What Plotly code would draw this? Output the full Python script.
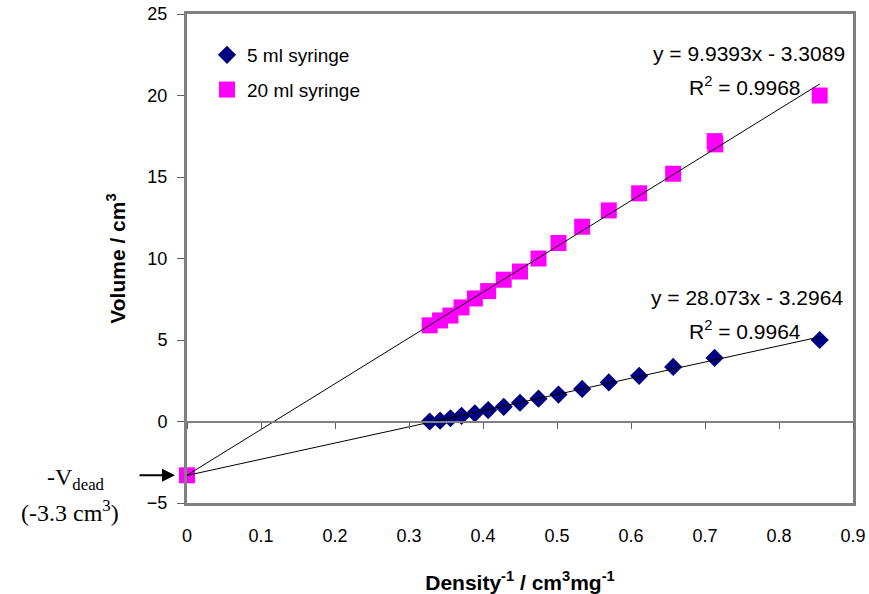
import plotly.graph_objects as go

# ---- data ----
inv_density_5ml = [0.328, 0.342, 0.356, 0.371, 0.389, 0.407, 0.428, 0.450, 0.475,
                   0.502, 0.534, 0.570, 0.611, 0.657, 0.713, 0.855]
volume_5ml = [0.0, 0.05, 0.2, 0.35, 0.5, 0.7, 0.9, 1.15, 1.4,
              1.65, 2.0, 2.4, 2.8, 3.35, 3.9, 5.0]

inv_density_20ml = [0.328, 0.342, 0.356, 0.371, 0.389, 0.407, 0.428, 0.450, 0.475,
                    0.502, 0.534, 0.570, 0.611, 0.657, 0.713, 0.714, 0.855]
volume_20ml = [5.9, 6.2, 6.5, 7.0, 7.55, 8.0, 8.7, 9.2, 10.0,
               10.95, 11.95, 12.95, 14.0, 15.2, 17.2, 17.0, 20.0]

dead_x = [0.0]
dead_volume = [-3.3]

fit_5ml = (9.9393, -3.3089, 0.9968)     # slope, intercept, R^2
fit_20ml = (28.073, -3.2964, 0.9964)

x_ticks = [0, 0.1, 0.2, 0.3, 0.4, 0.5, 0.6, 0.7, 0.8, 0.9]
y_ticks = [-5, 0, 5, 10, 15, 20, 25]

NAVY = "#000080"
MAGENTA = "#FF00FF"
FONT = "Liberation Sans, Arial, sans-serif"
SERIF = "Liberation Serif, Times New Roman, serif"

# body margin is removed via post_script; plot area spans x 187..853, y 14..503
W, H = 869, 594
L, R, T, B = 187, 16, 14, 91
PW = W - L - R
PH = H - T - B

fig = go.Figure()

# trend lines (from the fitted equations)
x_end = max(inv_density_5ml)
for slope, icpt, _ in (fit_20ml, fit_5ml):
    xs = [0.0, x_end]
    fig.add_trace(go.Scatter(x=xs, y=[slope * v + icpt for v in xs], mode="lines",
                             line=dict(color="black", width=1), showlegend=False,
                             hoverinfo="skip", xaxis="x2"))

fig.add_trace(go.Scatter(x=inv_density_5ml, y=volume_5ml, mode="markers",
                         name="5 ml syringe", legendgroup="a",
                         marker=dict(symbol="diamond", size=14, color=NAVY),
                         cliponaxis=False))
fig.add_trace(go.Scatter(x=inv_density_20ml, y=volume_20ml, mode="markers",
                         name="20 ml syringe", legendgroup="b",
                         marker=dict(symbol="square", size=16, color=MAGENTA),
                         cliponaxis=False))
fig.add_trace(go.Scatter(x=dead_x, y=dead_volume, mode="markers", showlegend=False,
                         marker=dict(symbol="square", size=16, color=MAGENTA),
                         cliponaxis=False))

annots = [
    dict(x=0.892, y=22.6, text="y = 9.9393x - 3.3089", xanchor="right"),
    dict(x=0.832, y=20.6, text="R<sup>2</sup> = %.4f" % fit_5ml[2], xanchor="right"),
    dict(x=0.889, y=7.6, text="y = 28.073x - 3.2964", xanchor="right"),
    dict(x=0.832, y=5.6, text="R<sup>2</sup> = %.4f" % fit_20ml[2], xanchor="right"),
]
ann_list = []
for a in annots:
    ann_list.append(dict(xref="x", yref="y", showarrow=False, yanchor="middle",
                         font=dict(family=FONT, size=21, color="black"), **a))


# -V_dead labels (positioned in paper units relative to the plot area)
def px_x(p):
    return (p - 187) / PW


def px_y(p):
    return (503 - p) / PH


ann_list.append(dict(xref="paper", yref="paper", x=px_x(76), y=px_y(479),
                     text="-V<sub>dead</sub>", showarrow=False, xanchor="center",
                     yanchor="middle", font=dict(family=SERIF, size=24, color="black")))
ann_list.append(dict(xref="paper", yref="paper", x=px_x(70), y=px_y(511),
                     text="(-3.3 cm<sup>3</sup>)", showarrow=False, xanchor="center",
                     yanchor="middle", font=dict(family=SERIF, size=24, color="black")))
ann_list.append(dict(xref="paper", yref="y", x=px_x(175), y=-3.3,
                     text="", showarrow=True, ax=-37, ay=0, arrowhead=2,
                     arrowsize=1.3, arrowwidth=2, arrowcolor="black"))

fig.update_layout(
    width=W, height=H,
    margin=dict(l=L, r=R, t=T, b=B, autoexpand=False),
    paper_bgcolor="white", plot_bgcolor="white",
    font=dict(family=FONT, size=18, color="black"),
    showlegend=True,
    legend=dict(x=0.03, y=0.955, xanchor="left", yanchor="top",
                bgcolor="rgba(0,0,0,0)", font=dict(family=FONT, size=19),
                tracegroupgap=7, traceorder="grouped"),
    xaxis=dict(range=[0, 0.9], tickvals=x_ticks, ticktext=[("%g" % v) for v in x_ticks],
               showgrid=False, zeroline=False, showline=True, mirror=True,
               linecolor="#808080", linewidth=3, ticks="",
               ticklabelstandoff=14, tickfont=dict(size=18), ticklabeloverflow="allow",
               title=dict(text="<b>Density<sup>-1</sup> / cm<sup>3</sup>mg<sup>-1</sup></b>",
                          font=dict(family=FONT, size=21), standoff=31)),
    xaxis2=dict(range=[0, 0.9], overlaying="x", anchor="free", position=5 / 30,
                tickvals=x_ticks, showticklabels=False, showgrid=False, zeroline=False,
                showline=True, linecolor="#808080", linewidth=2, ticks="outside",
                ticklen=6, tickcolor="#606060", tickwidth=1, side="bottom"),
    yaxis=dict(range=[-5, 25], tickvals=y_ticks, showgrid=False, zeroline=False,
               showline=True, mirror=True, linecolor="#808080", linewidth=3,
               ticks="outside", ticklen=7, tickcolor="#606060", tickwidth=1,
               ticklabelstandoff=6, tickfont=dict(size=18), ticklabeloverflow="allow",
               title=dict(text="<b>Volume / cm<sup>3</sup></b>",
                          font=dict(family=FONT, size=21), standoff=16)),
    annotations=ann_list,
)

fig.write_html("out.html",
               config={"displayModeBar": False},
               post_script="document.body.style.margin='0';"
                           "document.body.style.overflow='hidden';")
